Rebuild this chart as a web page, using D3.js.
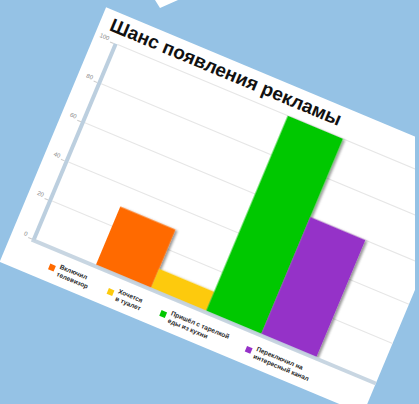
<!DOCTYPE html>
<html>
<head>
<meta charset="utf-8">
<script src="https://cdn.jsdelivr.net/npm/d3@7"></script>
<style>
  html, body { margin: 0; padding: 0; background: #95c2e5; }
  svg { display: block; }
</style>
</head>
<body>
<svg id="chart" width="419" height="404"></svg>
<script>
// Data
const categories = [
  "Включил телевизор",
  "Хочется в туалет",
  "Пришёл с тарелкой еды из кухни",
  "Переключил на интересный канал"
];
const legendLines = [
  ["Включил", "телевизор"],
  ["Хочется", "в туалет"],
  ["Пришёл с тарелкой", "еды из кухни"],
  ["Переключил на", "интересный канал"]
];
const values = [30, 10, 100, 60];
const colors = ["#ff6a00", "#fdca0c", "#00c800", "#9531c8"];
const tickValues = [0, 20, 40, 60, 80, 100];
const title = "Шанс появления рекламы";

const W = 419, H = 404;
const svg = d3.select("#chart");

// page background
svg.append("rect").attr("width", W).attr("height", H).attr("fill", "#95c2e5");

// small white pointer at the top edge
svg.append("polygon")
  .attr("points", "155,0 178,0 160,8")
  .attr("fill", "#ffffff");

const defs = svg.append("defs");
const shadow = defs.append("filter").attr("id", "barShadow")
  .attr("x", "-20%").attr("y", "-20%").attr("width", "140%").attr("height", "140%");
shadow.append("feDropShadow")
  .attr("dx", 2.5).attr("dy", 0.5).attr("stdDeviation", 1.3)
  .attr("flood-color", "#000").attr("flood-opacity", 0.4);

// slide tilted on the page; origin at the axis corner
const g = svg.append("g").attr("transform", "translate(33,239) rotate(22.7)");

const plotW = 372, plotH = 212;

// card
g.append("rect")
  .attr("x", -22).attr("y", -242)
  .attr("width", plotW + 22).attr("height", 276)
  .attr("fill", "#ffffff");

const y = d3.scaleLinear().domain([0, 100]).range([0, -plotH]);
const x = d3.scaleBand().domain(categories).range([68, 307]).padding(0);
const color = d3.scaleOrdinal().domain(categories).range(colors);

// gridlines
g.append("g").selectAll("line")
  .data(tickValues.filter(t => t > 0))
  .join("line")
  .attr("x1", 3).attr("x2", plotW)
  .attr("y1", d => y(d)).attr("y2", d => y(d))
  .attr("stroke", "#e6e6e6").attr("stroke-width", 1);

// value axis labels
const yAxis = g.append("g").attr("transform", "translate(-1,0)")
  .call(d3.axisLeft(y).tickValues(tickValues).tickSize(4).tickPadding(2));
yAxis.select(".domain").remove();
yAxis.selectAll(".tick line").attr("stroke", "#cccccc");
yAxis.selectAll(".tick text")
  .attr("fill", "#8a8a8a")
  .attr("dy", "-0.1em")
  .style("font-family", "'Liberation Sans', Arial, sans-serif")
  .style("font-size", "6px");

// bars
g.append("g").selectAll("rect")
  .data(categories.map((c, i) => ({ c, v: values[i] })))
  .join("rect")
  .attr("x", d => x(d.c))
  .attr("y", d => y(d.v))
  .attr("width", x.bandwidth())
  .attr("height", d => y(0) - y(d.v))
  .attr("fill", d => color(d.c))
  .attr("filter", "url(#barShadow)");

// axis lines
g.append("line")
  .attr("x1", 1).attr("x2", 1).attr("y1", 1).attr("y2", y(100))
  .attr("stroke", "#bccfdf").attr("stroke-width", 4);
g.append("line")
  .attr("x1", -1).attr("x2", plotW).attr("y1", 1).attr("y2", 1)
  .attr("stroke", "#c3d2df").attr("stroke-width", 4).attr("opacity", 0.9);

// title
g.append("text")
  .attr("x", -11).attr("y", -222)
  .attr("fill", "#111")
  .style("font-family", "'Liberation Sans', Arial, sans-serif")
  .style("font-size", "19px")
  .style("font-weight", "bold")
  .text(title);

// legend laid out left to right from measured text widths
const legend = g.append("g").attr("class", "legend");
let lx = 25.5;
categories.forEach((c, i) => {
  const item = legend.append("g").attr("transform", `translate(${lx},0)`);
  item.append("rect")
    .attr("x", 0).attr("y", 16).attr("width", 6).attr("height", 6)
    .attr("fill", color(c));
  const t = item.append("text")
    .attr("fill", "#2a2a2a")
    .style("font-family", "'Liberation Sans', Arial, sans-serif")
    .style("font-size", "6.5px")
    .style("font-weight", "bold");
  legendLines[i].forEach((line, k) => {
    t.append("tspan").attr("x", 10).attr("y", 17 + k * 8).text(line);
  });
  const w = t.node().getBBox().width;
  lx += 10 + w + 20;
});

// thin strip of page colour along the right edge
svg.append("rect").attr("x", 415).attr("y", 0).attr("width", 4).attr("height", H)
  .attr("fill", "#95c2e5");
</script>
</body>
</html>
